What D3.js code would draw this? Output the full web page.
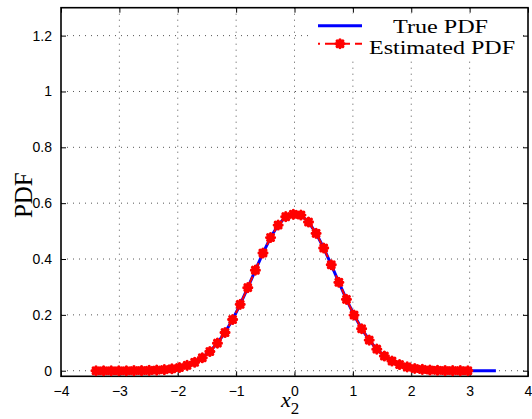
<!DOCTYPE html>
<html>
<head>
<meta charset="utf-8">
<script src="https://cdn.jsdelivr.net/npm/d3@7"></script>
<style>
  body { margin: 0; background: #fff; }
  svg { display: block; }
  .tick text { font-family: "Liberation Sans", Arial, sans-serif; font-size: 14px; fill: #000; }
</style>
</head>
<body>
<div id="chart"></div>
<script>
// estimated PDF samples
const estX = [-3.40, -3.27, -3.14, -3.01, -2.88, -2.75, -2.62, -2.49, -2.36, -2.23,
  -2.10, -1.97, -1.84, -1.71, -1.58, -1.45, -1.32, -1.19, -1.06, -0.93,
  -0.80, -0.67, -0.54, -0.41, -0.28, -0.15, -0.02, 0.11, 0.24, 0.37,
  0.50, 0.63, 0.76, 0.89, 1.02, 1.15, 1.28, 1.41, 1.54, 1.67,
  1.80, 1.93, 2.06, 2.19, 2.32, 2.45, 2.58, 2.71, 2.84, 2.97];
const estY = [0.0000, 0.0000, 0.0000, 0.0001, 0.0001, 0.0003, 0.0006, 0.0011, 0.0021, 0.0039,
  0.0069, 0.0116, 0.0191, 0.0303, 0.0465, 0.0689, 0.0988, 0.1369, 0.1834, 0.2376,
  0.2975, 0.3601, 0.4215, 0.4769, 0.5217, 0.5517, 0.5600, 0.5574, 0.5326, 0.4920,
  0.4394, 0.3794, 0.3166, 0.2555, 0.1993, 0.1504, 0.1096, 0.0773, 0.0527, 0.0347,
  0.0221, 0.0136, 0.0081, 0.0047, 0.0026, 0.0014, 0.0007, 0.0004, 0.0002, 0.0001];

// true PDF curve
const trueX = [-3.40, -3.14, -2.88, -2.62, -2.36, -2.10, -1.97, -1.84, -1.71, -1.58,
  -1.45, -1.32, -1.19, -1.06, -0.93, -0.80, -0.67, -0.54, -0.41, -0.28,
  -0.15, -0.02, 0.11, 0.24, 0.37, 0.50, 0.63, 0.76, 0.89, 1.02,
  1.15, 1.28, 1.41, 1.54, 1.67, 1.80, 1.93, 2.06, 2.19, 2.45,
  2.71, 2.97, 3.20, 3.45];
const trueY = [0.0000, 0.0000, 0.0001, 0.0006, 0.0021, 0.0069, 0.0116, 0.0191, 0.0303, 0.0465,
  0.0689, 0.0988, 0.1369, 0.1834, 0.2376, 0.2975, 0.3601, 0.4215, 0.4769, 0.5217,
  0.5517, 0.5640, 0.5574, 0.5326, 0.4920, 0.4394, 0.3794, 0.3166, 0.2555, 0.1993,
  0.1504, 0.1096, 0.0773, 0.0527, 0.0347, 0.0221, 0.0136, 0.0081, 0.0047, 0.0014,
  0.0004, 0.0001, 0.0000, 0.0000];

const xTicks = [-4, -3, -2, -1, 0, 1, 2, 3, 4];
const yTicks = [0, 0.2, 0.4, 0.6, 0.8, 1, 1.2];
const legendLabels = ["True PDF", "Estimated PDF"];

const W = 532, H = 419;
const margin = { left: 61, right: 4, top: 7.7, bottom: 42.7 };
const iw = W - margin.left - margin.right;
const ih = H - margin.top - margin.bottom;

const svg = d3.select("#chart").append("svg")
  .attr("width", W).attr("height", H);

const g = svg.append("g")
  .attr("transform", `translate(${margin.left},${margin.top})`);

const x = d3.scaleLinear().domain([-4, 4]).range([0, iw]);
const y = d3.scaleLinear().domain([-0.02, 1.3]).range([ih, 0]);

const fmt = d => String(d).replace("-", "\u2212");

// grid
g.append("g").selectAll("line").data(xTicks.slice(1, -1)).join("line")
  .attr("x1", d => x(d)).attr("x2", d => x(d))
  .attr("y1", 0).attr("y2", ih)
  .attr("stroke", "#555").attr("stroke-width", 1).attr("stroke-dasharray", "1,5");
g.append("g").selectAll("line").data(yTicks).join("line")
  .attr("x1", 0).attr("x2", iw)
  .attr("y1", d => y(d)).attr("y2", d => y(d))
  .attr("stroke", "#555").attr("stroke-width", 1).attr("stroke-dasharray", "1,5");

// axes (ticks inward)
const xAxis = g.append("g").attr("transform", `translate(0,${ih})`)
  .call(d3.axisBottom(x).tickValues(xTicks).tickFormat(fmt).tickSizeInner(-5).tickSizeOuter(0).tickPadding(10));
const xAxisTop = g.append("g")
  .call(d3.axisTop(x).tickValues(xTicks).tickFormat("").tickSizeInner(-5).tickSizeOuter(0));
const yAxis = g.append("g")
  .call(d3.axisLeft(y).tickValues(yTicks).tickFormat(fmt).tickSizeInner(-5).tickSizeOuter(0).tickPadding(9));
const yAxisR = g.append("g").attr("transform", `translate(${iw},0)`)
  .call(d3.axisRight(y).tickValues(yTicks).tickFormat("").tickSizeInner(-5).tickSizeOuter(0));
[xAxis, xAxisTop, yAxis, yAxisR].forEach(a => {
  a.select(".domain").remove();
  a.selectAll(".tick line").attr("stroke", "#000").attr("stroke-width", 1);
});
xAxis.selectAll(".tick text").attr("dy", "0.71em");

// box
g.append("rect").attr("x", 0).attr("y", 0).attr("width", iw).attr("height", ih)
  .attr("fill", "none").attr("stroke", "#000").attr("stroke-width", 1.6);

// true pdf
const line = d3.line().x(d => x(d[0])).y(d => y(d[1]));
g.append("path").datum(d3.zip(trueX, trueY))
  .attr("d", line).attr("fill", "none")
  .attr("stroke", "#0000ff").attr("stroke-width", 3);

// estimated pdf
g.append("path").datum(d3.zip(estX, estY))
  .attr("d", line).attr("fill", "none")
  .attr("stroke", "#ff0000").attr("stroke-width", 2).attr("stroke-dasharray", "10,5");

function star(sel) {
  const r = 3.9;
  sel.append("path")
    .attr("d", `M${-r},0H${r}M0,${-r}V${r}M${-r * 0.72},${-r * 0.72}L${r * 0.72},${r * 0.72}M${-r * 0.72},${r * 0.72}L${r * 0.72},${-r * 0.72}`)
    .attr("stroke", "#ff0000").attr("stroke-width", 3.3).attr("stroke-linecap", "round").attr("fill", "none");
}
g.append("g").selectAll("g").data(d3.zip(estX, estY)).join("g")
  .attr("transform", d => `translate(${x(d[0])},${y(d[1])})`)
  .call(star);

// labels
svg.append("text")
  .attr("transform", `translate(32,${margin.top + y(0.6) - 8}) rotate(-90)`)
  .attr("text-anchor", "middle")
  .style("font-family", "'Liberation Serif', 'Times New Roman', serif")
  .style("font-size", "25px")
  .text("PDF");

const xl = svg.append("text")
  .attr("x", 281).attr("y", 407)
  .style("font-family", "'Liberation Serif', 'Times New Roman', serif");
xl.append("tspan").style("font-style", "italic").style("font-size", "22px").text("x");
xl.append("tspan").attr("dy", 7).style("font-size", "17px").text("2");

// legend
const lg = svg.append("g");
lg.append("rect").attr("x", 312).attr("y", 14).attr("width", 208).attr("height", 44).attr("fill", "#fff");
lg.append("line").attr("x1", 318).attr("x2", 362).attr("y1", 25.7).attr("y2", 25.7)
  .attr("stroke", "#0000ff").attr("stroke-width", 3);
lg.append("line").attr("x1", 318).attr("x2", 362).attr("y1", 43.7).attr("y2", 43.7)
  .attr("stroke", "#ff0000").attr("stroke-width", 2).attr("stroke-dasharray", "10,5").attr("stroke-dashoffset", 8);
lg.append("g").attr("transform", "translate(340,43.7)").call(star);
const legendY = [33, 54];
const legendX = [393, 369];
const legendLen = [95, 146];
legendLabels.forEach((t, i) => {
  lg.append("text").attr("x", legendX[i]).attr("y", legendY[i])
    .attr("textLength", legendLen[i]).attr("lengthAdjust", "spacingAndGlyphs")
    .style("font-family", "'Liberation Serif', 'Times New Roman', serif")
    .style("font-size", "18px")
    .text(t);
});
</script>
</body>
</html>
